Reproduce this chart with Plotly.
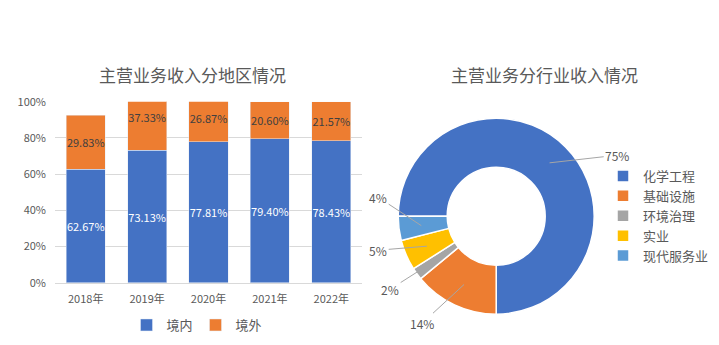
import math
import plotly.graph_objects as go

# ---------------- data ----------------
years = ['2018年', '2019年', '2020年', '2021年', '2022年']
domestic = [62.67, 73.13, 77.81, 79.40, 78.43]   # 境内 (%)
overseas = [29.83, 37.33, 26.87, 20.60, 21.57]   # 境外 (%)
series_names = ['境内', '境外']

industries = ['化学工程', '基础设施', '环境治理', '实业', '现代服务业']
shares = [75, 14, 2, 5, 4]   # %

# ---------------- styles ----------------
FONT = 'Noto Sans CJK SC'
GREY_TXT = '#595959'
C_BLUE = '#4472C4'
C_ORANGE = '#ED7D31'
PIE_COLORS = ['#4472C4', '#ED7D31', '#A5A5A5', '#FFC000', '#5B9BD5']
W, H = 719, 345

fig = go.Figure()

fig.add_trace(go.Bar(
    x=years, y=domestic, name=series_names[0], marker_color=C_BLUE,
    text=[f'{v:.2f}%' for v in domestic], textposition='inside',
    insidetextanchor='middle', textangle=0, constraintext='none',
    textfont=dict(color='white', size=11, family=FONT),
    legend='legend', hoverinfo='x+y'))
fig.add_trace(go.Bar(
    x=years, y=overseas, name=series_names[1], marker_color=C_ORANGE,
    text=[f'{v:.2f}%' for v in overseas], textposition='inside',
    insidetextanchor='middle', textangle=0, constraintext='none',
    textfont=dict(color='#404040', size=11, family=FONT),
    legend='legend', hoverinfo='x+y'))

# pie geometry (pixel layout)
pie_cx, pie_cy, pie_r = 496.2, 216.2, 98.0   # centre / radius in px (from top-left)
hole = 0.5
rotation = 270   # first slice starts at 9 o'clock, clockwise

fig.add_trace(go.Pie(
    labels=industries, values=shares, hole=hole, sort=False,
    direction='clockwise', rotation=rotation,
    marker=dict(colors=PIE_COLORS, line=dict(color='white', width=1.5)),
    textinfo='none', legend='legend2',
    domain=dict(x=[(pie_cx - pie_r) / W, (pie_cx + pie_r) / W],
                y=[(H - pie_cy - pie_r) / H, (H - pie_cy + pie_r) / H])))

# pie labels with leader lines (text offsets relative to pie centre, px)
label_pos = [(121, -61), (-74, 107), (-106, 73), (-118, 34), (-118, -19)]
total = sum(shares)
cum = 0
annotations = []
for v, (lx, ly) in zip(shares, label_pos):
    mid = math.radians(rotation + (cum + v / 2) / total * 360)
    cum += v
    rr = 0.77 * pie_r
    px = pie_cx + rr * math.sin(mid)
    py = pie_cy - rr * math.cos(mid)
    annotations.append(dict(
        x=px / W, y=1 - py / H, xref='paper', yref='paper',
        text=f'{v / total * 100:.0f}%', showarrow=True, arrowhead=0,
        arrowwidth=1, arrowcolor='#A6A6A6', standoff=0,
        ax=(pie_cx + lx) - px, ay=(pie_cy + ly) - py,
        font=dict(size=12, color=GREY_TXT, family=FONT)))

# titles
annotations.append(dict(x=192.5 / W, y=1 - 75 / H, xref='paper', yref='paper',
                        text='主营业务收入分地区情况', showarrow=False,
                        xanchor='center', yanchor='middle',
                        font=dict(size=17, color=GREY_TXT, family=FONT)))
annotations.append(dict(x=544 / W, y=1 - 75 / H, xref='paper', yref='paper',
                        text='主营业务分行业收入情况', showarrow=False,
                        xanchor='center', yanchor='middle',
                        font=dict(size=17, color=GREY_TXT, family=FONT)))

fig.update_layout(
    width=W, height=H, margin=dict(l=0, r=0, t=0, b=0, autoexpand=False),
    paper_bgcolor='white', plot_bgcolor='white',
    font=dict(family=FONT, color=GREY_TXT, size=11),
    barmode='stack', bargap=0.363,
    xaxis=dict(domain=[55 / W, 362 / W], showline=True, linecolor='#D9D9D9',
               linewidth=1, ticks='', showgrid=False, automargin=False,
               tickfont=dict(size=11, color=GREY_TXT), ticklabelstandoff=6),
    yaxis=dict(domain=[(H - 282.7) / H, (H - 101.7) / H], range=[0, 100],
               dtick=20, ticksuffix='%', showgrid=True, gridcolor='#D9D9D9',
               gridwidth=1, zeroline=False, showline=False, ticks='',
               automargin=False,
               tickfont=dict(size=11, color=GREY_TXT), ticklabelstandoff=8),
    legend=dict(orientation='h', x=195.5 / W, y=1 - 325 / H, xanchor='center',
                yanchor='middle', traceorder='normal', entrywidth=24,
                font=dict(size=13, color=GREY_TXT, family=FONT),
                bgcolor='rgba(0,0,0,0)'),
    legend2=dict(orientation='v', x=603 / W, y=1 - 216 / H, xanchor='left',
                 yanchor='middle', font=dict(size=13, color=GREY_TXT, family=FONT),
                 bgcolor='rgba(0,0,0,0)'),
    annotations=annotations,
    showlegend=True,
)

fig.write_html('out.html')
